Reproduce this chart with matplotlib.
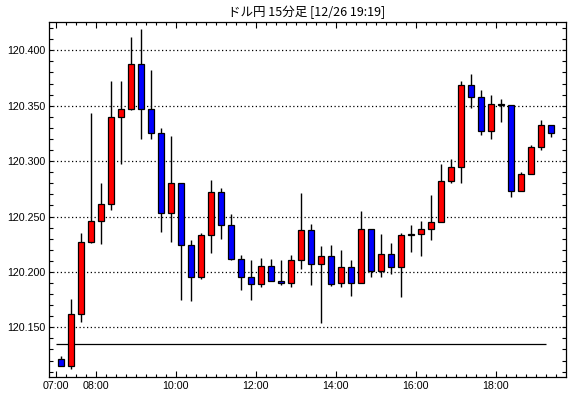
import numpy as np
import matplotlib
matplotlib.use("Agg")
import matplotlib.pyplot as plt
from matplotlib.ticker import FixedLocator, MultipleLocator

# 15-minute candles, 07:00 .. 19:15
opens = [120.121, 120.115, 120.162, 120.227, 120.246, 120.261, 120.340, 120.347, 120.388, 120.347,
         120.325, 120.253, 120.280, 120.224, 120.195, 120.233, 120.272, 120.242, 120.212, 120.195,
         120.189, 120.205, 120.192, 120.190, 120.211, 120.238, 120.207, 120.214, 120.190, 120.204,
         120.190, 120.239, 120.201, 120.216, 120.204, 120.233, 120.234, 120.239, 120.245, 120.282,
         120.295, 120.369, 120.358, 120.327, 120.352, 120.351, 120.273, 120.288, 120.313, 120.333]
highs = [120.124, 120.176, 120.235, 120.343, 120.280, 120.372, 120.372, 120.412, 120.419, 120.382,
         120.330, 120.323, 120.280, 120.229, 120.235, 120.283, 120.276, 120.252, 120.215, 120.211,
         120.213, 120.212, 120.211, 120.215, 120.271, 120.243, 120.223, 120.224, 120.220, 120.211,
         120.255, 120.239, 120.234, 120.226, 120.235, 120.242, 120.246, 120.269, 120.297, 120.302,
         120.372, 120.379, 120.364, 120.360, 120.356, 120.351, 120.290, 120.315, 120.337, 120.333]
lows = [120.115, 120.112, 120.155, 120.226, 120.225, 120.256, 120.297, 120.346, 120.320, 120.320,
        120.236, 120.227, 120.175, 120.174, 120.194, 120.217, 120.230, 120.211, 120.184, 120.175,
        120.186, 120.192, 120.188, 120.186, 120.203, 120.188, 120.154, 120.187, 120.186, 120.178,
        120.190, 120.195, 120.195, 120.198, 120.177, 120.218, 120.214, 120.229, 120.245, 120.280,
        120.280, 120.348, 120.324, 120.320, 120.335, 120.268, 120.273, 120.288, 120.310, 120.322]
closes = [120.115, 120.162, 120.227, 120.246, 120.261, 120.340, 120.347, 120.388, 120.347, 120.325,
          120.253, 120.280, 120.224, 120.195, 120.233, 120.272, 120.242, 120.212, 120.195, 120.189,
          120.205, 120.192, 120.190, 120.211, 120.238, 120.207, 120.214, 120.189, 120.204, 120.190,
          120.239, 120.201, 120.216, 120.204, 120.233, 120.234, 120.239, 120.245, 120.282, 120.295,
          120.369, 120.358, 120.327, 120.352, 120.351, 120.273, 120.288, 120.313, 120.333, 120.325]

ref_level = 120.135
hour_labels = ["07:00", "08:00", "10:00", "12:00", "14:00", "16:00", "18:00"]
hour_values = [7, 8, 10, 12, 14, 16, 18]
title = "ドル円 15分足 [12/26 19:19]"

o = np.array(opens)
h = np.array(highs)
l = np.array(lows)
c = np.array(closes)
x = np.arange(len(o))
up = c > o
colors = np.where(up, "#ff0000", "#0000ff")

fig = plt.figure(figsize=(5.7, 3.98), dpi=100)
ax = fig.add_axes([49.3 / 570, 20.7 / 398, 516.4 / 570, 355 / 398])

ax.vlines(x, l, h, color="black", linewidth=1.0, zorder=2)
ax.bar(x, np.abs(c - o), bottom=np.minimum(o, c), width=0.62, color=colors,
       edgecolor="black", linewidth=0.9, zorder=3)

# reference line
ax.hlines(ref_level, -0.5, 48.5, color="black", linewidth=0.9, zorder=1)

ax.set_xlim(-1.13, 50.5)
ax.set_ylim(120.1049, 120.4253)

# y axis
ax.yaxis.set_major_locator(MultipleLocator(0.05))
ax.yaxis.set_minor_locator(MultipleLocator(0.01))
ax.yaxis.set_major_formatter(plt.FuncFormatter(lambda v, p: f"{v:.3f}"))
ax.grid(axis="y", which="major", color="black", linestyle=(0, (1, 2)), linewidth=0.9)

# x axis: ticks at candle boundaries
ax.xaxis.set_major_locator(FixedLocator([-0.5 + 4 * (hv - 7) for hv in hour_values]))
ax.set_xticklabels(hour_labels)
ax.xaxis.set_minor_locator(FixedLocator(np.arange(-0.5, 50.5, 1.0)))

ax.tick_params(axis="both", which="both", direction="in", top=True, right=True,
               color="black", width=0.8)
ax.tick_params(axis="y", which="both", length=3, labelsize=7.7, pad=2.4)
ax.tick_params(axis="x", which="major", length=4, labelsize=7.7, pad=3)
ax.tick_params(axis="x", which="minor", length=2)
for lab in ax.get_xticklabels() + ax.get_yticklabels():
    lab.set_family("Liberation Sans")

for sp in ax.spines.values():
    sp.set_linewidth(0.9)
    sp.set_color("black")

fig.text(307 / 570, 1 - 12 / 398, title, ha="center", va="center", fontsize=9,
         family=["Noto Sans CJK JP", "DejaVu Sans"])

fig.savefig("out.png", dpi=100)
